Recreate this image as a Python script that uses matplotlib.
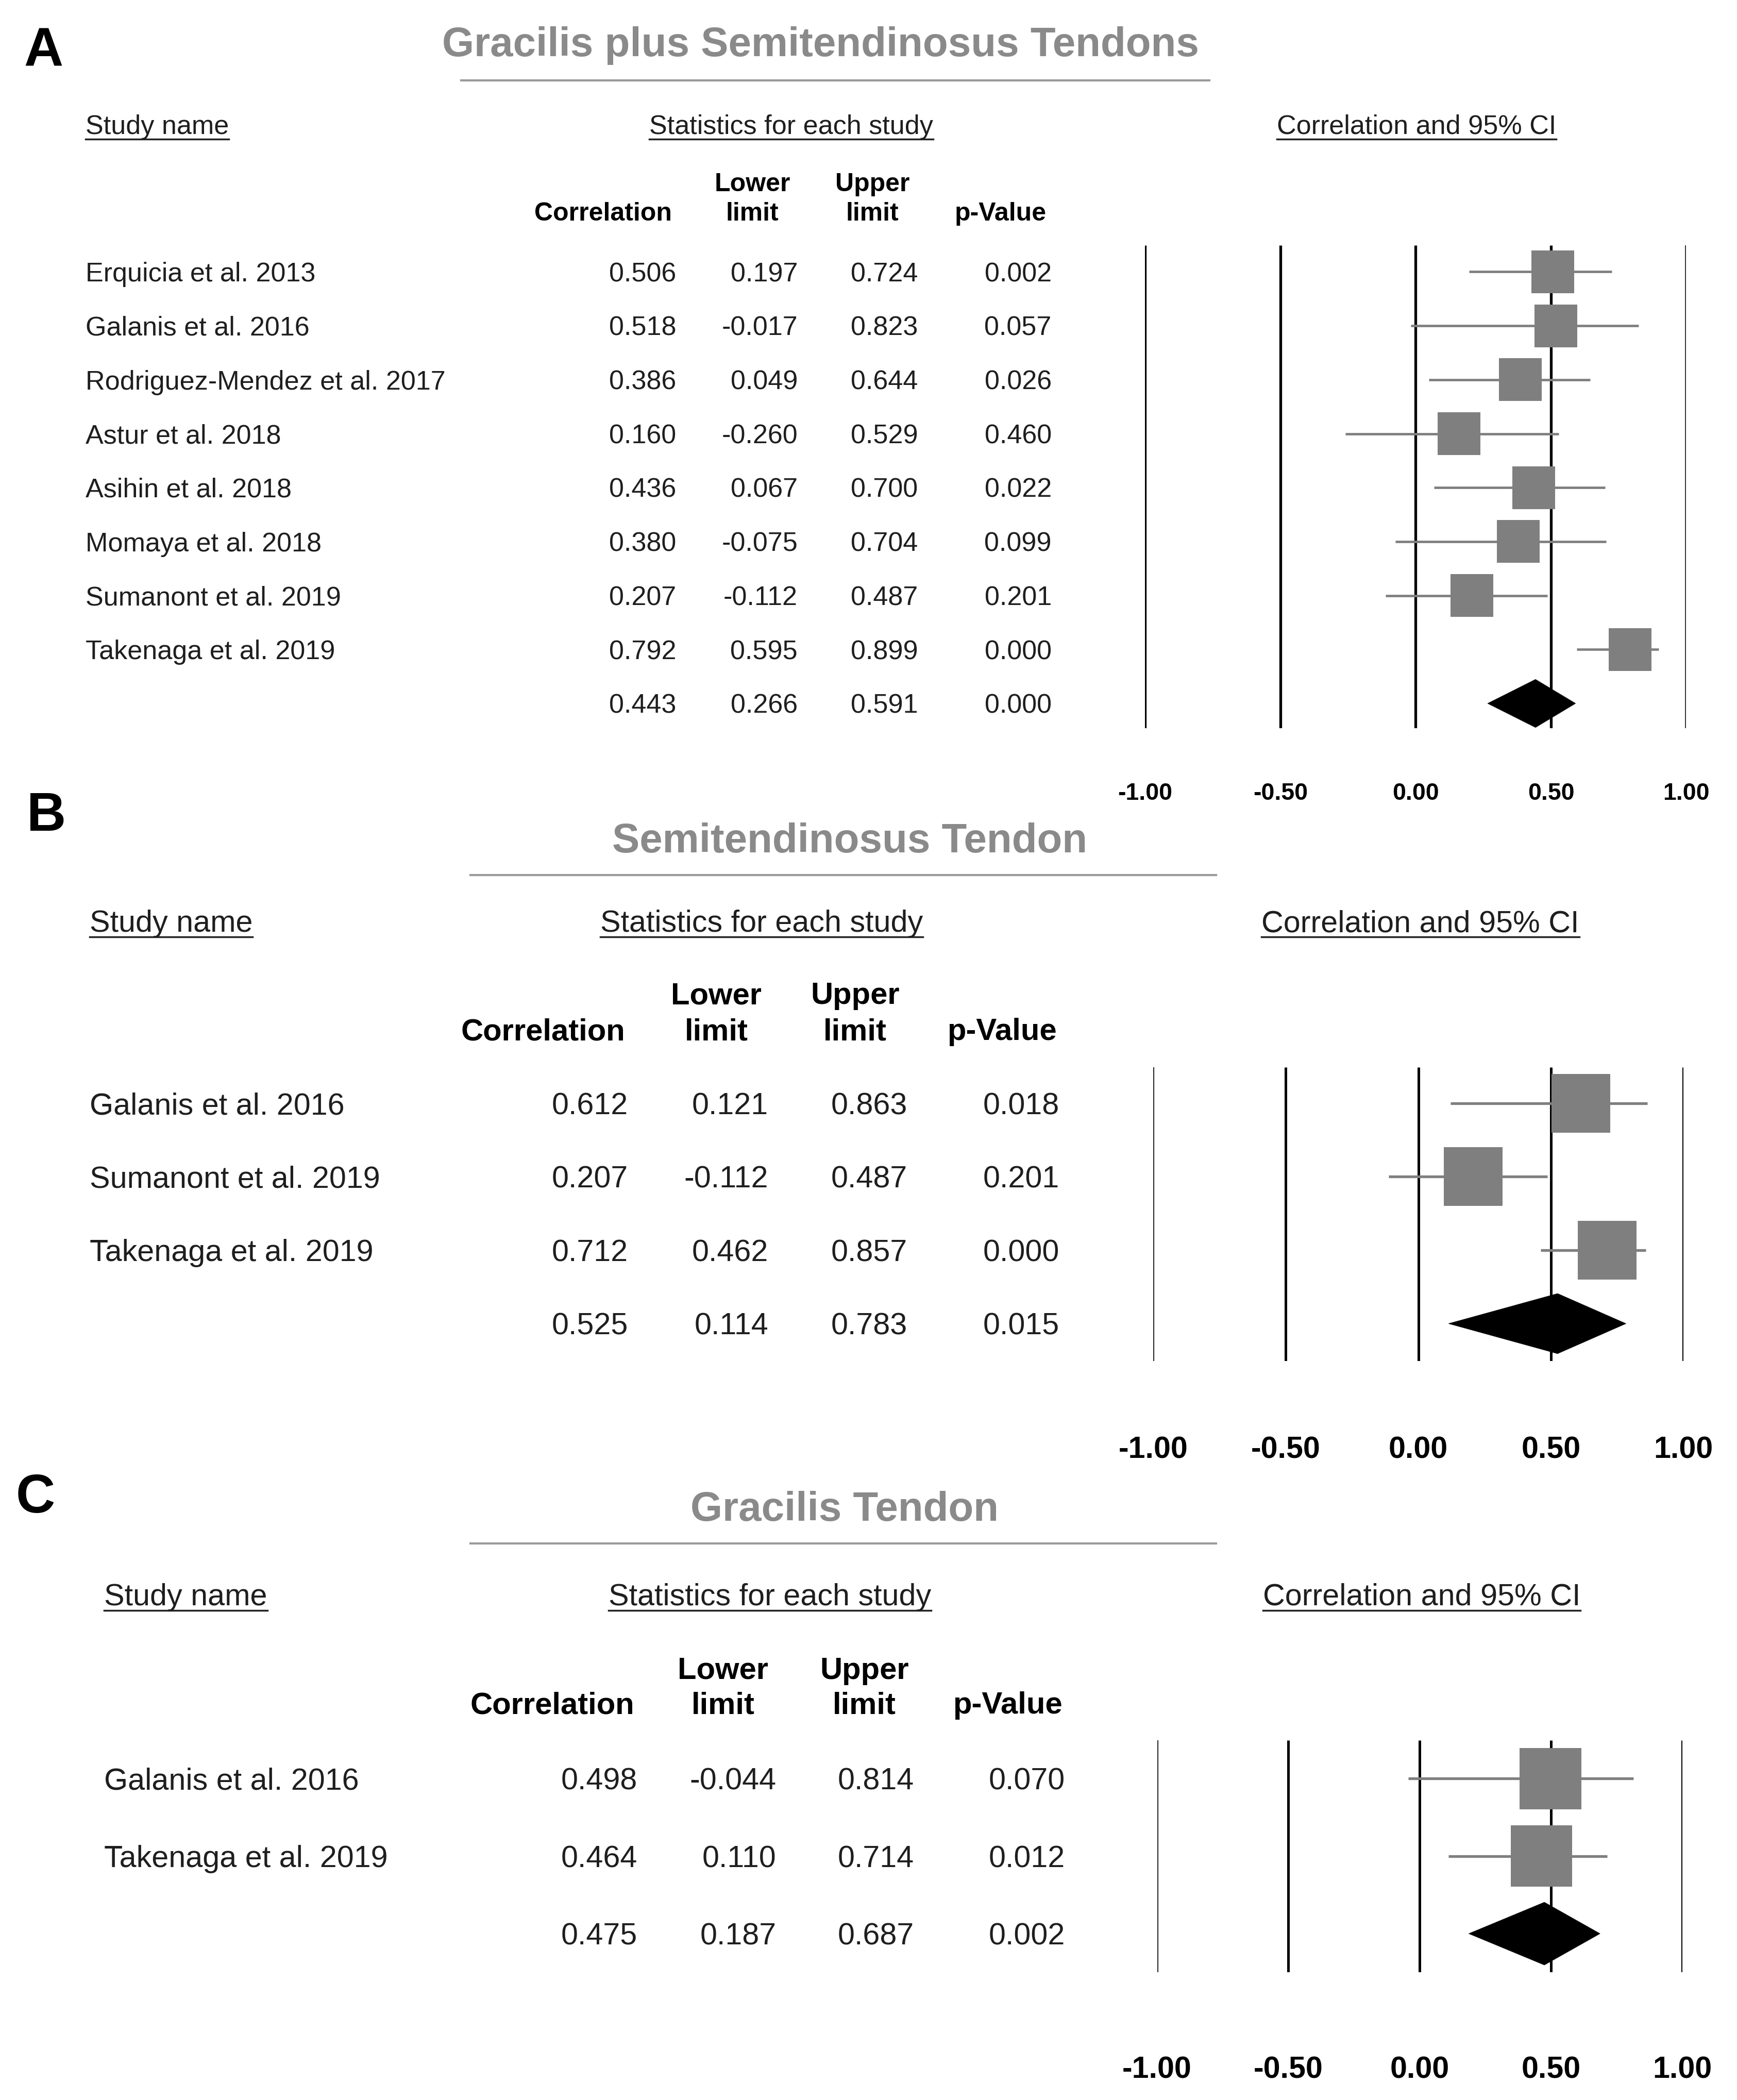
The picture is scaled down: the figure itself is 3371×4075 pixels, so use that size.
import matplotlib
matplotlib.use("Agg")
import matplotlib.pyplot as plt
from matplotlib.patches import Polygon
from matplotlib.lines import Line2D
from matplotlib.transforms import blended_transform_factory

plt.rcParams['font.family'] = ['Liberation Sans', 'DejaVu Sans']

# Painel A - Gracilis plus Semitendinosus
estudosA = ["Erquicia et al. 2013", "Galanis et al. 2016", "Rodriguez-Mendez et al. 2017",
            "Astur et al. 2018", "Asihin et al. 2018", "Momaya et al. 2018",
            "Sumanont et al. 2019", "Takenaga et al. 2019"]
corrA = [0.506, 0.518, 0.386, 0.160, 0.436, 0.380, 0.207, 0.792]
infA = [0.197, -0.017, 0.049, -0.260, 0.067, -0.075, -0.112, 0.595]
supA = [0.724, 0.823, 0.644, 0.529, 0.700, 0.704, 0.487, 0.899]
pA = [0.002, 0.057, 0.026, 0.460, 0.022, 0.099, 0.201, 0.000]
resumoA = [0.443, 0.266, 0.591, 0.000]

# Painel B - Semitendinosus
estudosB = ["Galanis et al. 2016", "Sumanont et al. 2019", "Takenaga et al. 2019"]
corrB = [0.612, 0.207, 0.712]
infB = [0.121, -0.112, 0.462]
supB = [0.863, 0.487, 0.857]
pB = [0.018, 0.201, 0.000]
resumoB = [0.525, 0.114, 0.783, 0.015]

# Painel C - Gracilis
estudosC = ["Galanis et al. 2016", "Takenaga et al. 2019"]
corrC = [0.498, 0.464]
infC = [-0.044, 0.110]
supC = [0.814, 0.714]
pC = [0.070, 0.012]
resumoC = [0.475, 0.187, 0.687, 0.002]

ticks = [-1.0, -0.5, 0.0, 0.5, 1.0]

# coordenadas de referencia (imagem reduzida 1300 x 1571.5)
WD, HD = 1300.0, 1571.5
S = 3371 / WD
def fx(x):
    return x / WD
def fy(y):
    return 1 - y / HD
def desl(fs):
    # desloca o texto para o centro visual dos caracteres
    return 0.1 * fs * 100 / 72.0 / S

fig = plt.figure(figsize=(33.71, 40.75), dpi=100)
sublinhar = []

def desenharPainel(letra, titulo, estudos, corr, inf, sup, pv, resumo, L):
    corTexto = "#1e1e1e"
    fig.text(fx(L["letra"][0]), fy(L["letra"][1] + desl(76)), letra, fontsize=76, fontweight="bold",
             ha="left", va="center", color="black")
    fig.text(fx(L["titulo"][0]), fy(L["titulo"][1] + desl(57.5)), titulo, fontsize=57.5, fontweight="bold",
             ha="center", va="center", color="#8a8a8a")
    x0, x1, yl = L["linha"]
    fig.add_artist(Line2D([fx(x0), fx(x1)], [fy(yl), fy(yl)], color="#9a9a9a", lw=3,
                          transform=fig.transFigure))

    fs = L["fonte"]
    fc = L["fonte_cab"]
    sy = L["sub_y"]
    syt = fy(sy + desl(fs))
    t1 = fig.text(fx(L["sub_x"][0]), syt, "Study name", fontsize=fs, ha="left", va="center", color=corTexto)
    t2 = fig.text(fx(L["sub_x"][1]), syt, "Statistics for each study", fontsize=fs, ha="center", va="center", color=corTexto)
    t3 = fig.text(fx(L["sub_x"][2]), syt, "Correlation and 95% CI", fontsize=fs, ha="center", va="center", color=corTexto)
    for t in (t1, t2, t3):
        sublinhar.append((t, sy + L["sub_off"]))

    # eixo da floresta
    xa, xb = L["eixo"]
    topo, base = L["topo"], L["base"]
    y0, dy = L["y0"], L["dy"]
    ax = fig.add_axes([fx(xa), fy(base), (xb - xa) / WD, (base - topo) / HD])
    ax.set_xlim(-1, 1)
    ax.set_ylim((base - y0) / dy, (topo - y0) / dy)
    ax.axis("off")
    ylim = ax.get_ylim()

    for t, lw, cor in zip(ticks, L["lw_v"], L["cor_v"]):
        ax.vlines(t, ylim[0], ylim[1], colors=cor, lw=lw, zorder=1)

    n = len(estudos)
    linhas = list(range(n))
    ax.hlines(linhas, inf, sup, colors="#7f7f7f", lw=L["lw_ci"], zorder=2)
    tam = (L["quad"] * S * 72 / 100.0) ** 2
    ax.scatter(corr, linhas, marker="s", s=tam, color="#7f7f7f", edgecolors="none", zorder=3)
    h = L["diam"] / dy / 2
    c, lo, hi, p = resumo
    ax.add_patch(Polygon([(lo, n), (c, n - h), (hi, n), (c, n + h)], closed=True,
                         facecolor="black", edgecolor="black", lw=0.5, zorder=4))

    # rótulos do eixo
    ft = L["fonte_tick"]
    ty = (L["tick_y"] + desl(ft) - y0) / dy
    for t in ticks:
        ax.text(t, ty, "%.2f" % t, fontsize=ft, fontweight="bold",
                ha="center", va="center", clip_on=False)

    # tabela
    tr = blended_transform_factory(fig.transFigure, ax.transData)
    dc = desl(fc) / dy
    dt = desl(fs) / dy
    cy1 = (L["cab_y"][0] - y0) / dy + dc
    cy2 = (L["cab_y"][1] - y0) / dy + dc
    cx = L["cab_x"]
    fig.text(fx(cx[0]), cy2, "Correlation", transform=tr, fontsize=fc, fontweight="bold", ha="right", va="center")
    fig.text(fx(cx[1]), cy1, "Lower", transform=tr, fontsize=fc, fontweight="bold", ha="center", va="center")
    fig.text(fx(cx[1]), cy2, "limit", transform=tr, fontsize=fc, fontweight="bold", ha="center", va="center")
    fig.text(fx(cx[2]), cy1, "Upper", transform=tr, fontsize=fc, fontweight="bold", ha="center", va="center")
    fig.text(fx(cx[2]), cy2, "limit", transform=tr, fontsize=fc, fontweight="bold", ha="center", va="center")
    fig.text(fx(cx[3]), cy2, "p-Value", transform=tr, fontsize=fc, fontweight="bold", ha="center", va="center")

    colx = L["col_x"]
    linhasTab = list(zip(estudos, corr, inf, sup, pv)) + [("", c, lo, hi, p)]
    for i, (nome, a, b, d, e) in enumerate(linhasTab):
        fig.text(fx(L["nome_x"]), i + dt, nome, transform=tr, fontsize=fs, ha="left", va="center", color=corTexto)
        for xx, v in zip(colx, (a, b, d, e)):
            fig.text(fx(xx), i + dt, "%.3f" % v, transform=tr, fontsize=fs, ha="right", va="center", color=corTexto)


layoutA = dict(letra=(18, 35), titulo=(614, 31), linha=(345, 905, 60), sub_y=93, sub_off=11,
               sub_x=(64, 592, 1060), cab_y=(136, 158), cab_x=(503, 563, 653, 749),
               col_x=(506, 597, 687, 787), nome_x=64, y0=203.4, dy=40.375, topo=183.5, base=545,
               eixo=(857, 1262), tick_y=592, fonte=37.5, fonte_cab=36, fonte_tick=33.5,
               quad=32, diam=36, lw_v=[3.8, 3.8, 3.8, 3.8, 2.8],
               cor_v=["black", "black", "black", "black", "#333333"], lw_ci=3.4)
layoutB = dict(letra=(20, 607), titulo=(636, 627), linha=(352, 910, 655), sub_y=689, sub_off=12,
               sub_x=(67, 570, 1063), cab_y=(743, 770), cab_x=(468, 536, 640, 750),
               col_x=(470, 575, 679, 793), nome_x=67, y0=825.5, dy=55, topo=798.5, base=1018.5,
               eixo=(863, 1260), tick_y=1083, fonte=42.7, fonte_cab=43, fonte_tick=42.6,
               quad=44, diam=45, lw_v=[3.0, 3.6, 3.6, 3.6, 3.6],
               cor_v=["#2a2a2a", "black", "black", "black", "black"], lw_ci=3.8)
layoutC = dict(letra=(12, 1117), titulo=(632, 1127), linha=(352, 910, 1155), sub_y=1193, sub_off=12,
               sub_x=(78, 576, 1064), cab_y=(1248, 1274), cab_x=(475, 541, 647, 754),
               col_x=(477, 581, 684, 797), nome_x=78, y0=1331, dy=58, topo=1302.5, base=1476,
               eixo=(866, 1259), tick_y=1547, fonte=42.7, fonte_cab=43, fonte_tick=42.6,
               quad=46, diam=47, lw_v=[3.0, 3.6, 3.6, 3.6, 3.6],
               cor_v=["#2a2a2a", "black", "black", "black", "black"], lw_ci=3.8)

desenharPainel("A", "Gracilis plus Semitendinosus Tendons", estudosA, corrA, infA, supA, pA, resumoA, layoutA)
desenharPainel("B", "Semitendinosus Tendon", estudosB, corrB, infB, supB, pB, resumoB, layoutB)
desenharPainel("C", "Gracilis Tendon", estudosC, corrC, infC, supC, pC, resumoC, layoutC)

# sublinhado dos subtítulos
fig.canvas.draw()
inv = fig.transFigure.inverted()
for t, yy in sublinhar:
    bb = t.get_window_extent()
    (a0, _), (a1, _) = inv.transform([(bb.x0, 0), (bb.x1, 0)])
    fig.add_artist(Line2D([a0, a1], [fy(yy), fy(yy)], color="#222222", lw=2.5,
                          transform=fig.transFigure))

fig.savefig("out.png", dpi=100, facecolor="white")
